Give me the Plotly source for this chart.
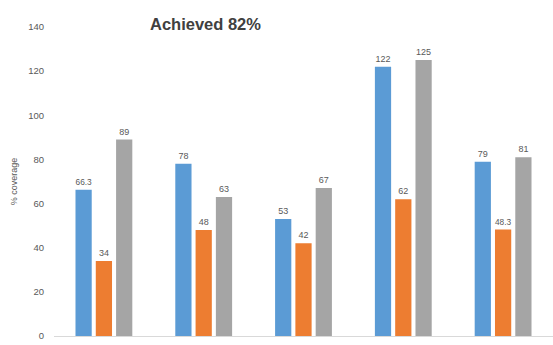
import plotly.graph_objects as go

groups = ["1", "2", "3", "4", "5"]
series_a = [66.3, 78, 53, 122, 79]
series_b = [34, 48, 42, 62, 48.3]
series_c = [89, 63, 67, 125, 81]
y_ticks = [0, 20, 40, 60, 80, 100, 120, 140]

colors = ["#5B9BD5", "#ED7D31", "#A5A5A5"]


def fmt(v):
    return f"{v:g}"


label_font = dict(family="Liberation Sans, Arial", size=9, color="#595959")

fig = go.Figure()
for vals, col, name in zip([series_a, series_b, series_c], colors, ["A", "B", "C"]):
    fig.add_trace(go.Bar(
        x=groups, y=vals, name=name,
        marker=dict(color=col, line=dict(width=0)),
        text=[fmt(v) for v in vals],
        textposition="outside",
        textfont=label_font,
        outsidetextfont=label_font,
        cliponaxis=False,
    ))

fig.update_layout(
    width=553, height=345,
    margin=dict(l=54, r=0, t=27, b=9),
    paper_bgcolor="white", plot_bgcolor="white",
    barmode="group", bargap=0.39, bargroupgap=0.2,
    showlegend=False,
    font=dict(family="Liberation Sans, Arial", color="#595959"),
    annotations=[dict(
        text="<b>Achieved 82%</b>",
        xref="paper", yref="paper",
        x=(205 - 54) / 499, y=1 + 3 / 309,
        xanchor="center", yanchor="middle",
        showarrow=False,
        font=dict(size=16.5, color="#404040"),
    )],
)
fig.update_xaxes(showticklabels=False, showgrid=False, showline=True,
                 linecolor="#D9D9D9", linewidth=1, ticks="")
fig.update_yaxes(range=[0, 140], tickvals=y_ticks, showgrid=False, zeroline=False,
                 showline=False, ticklabelstandoff=9,
                 tickfont=dict(size=9.5, color="#595959"),
                 title=dict(text="% coverage", font=dict(size=9, color="#595959"), standoff=8))

fig.write_html("out.html")
